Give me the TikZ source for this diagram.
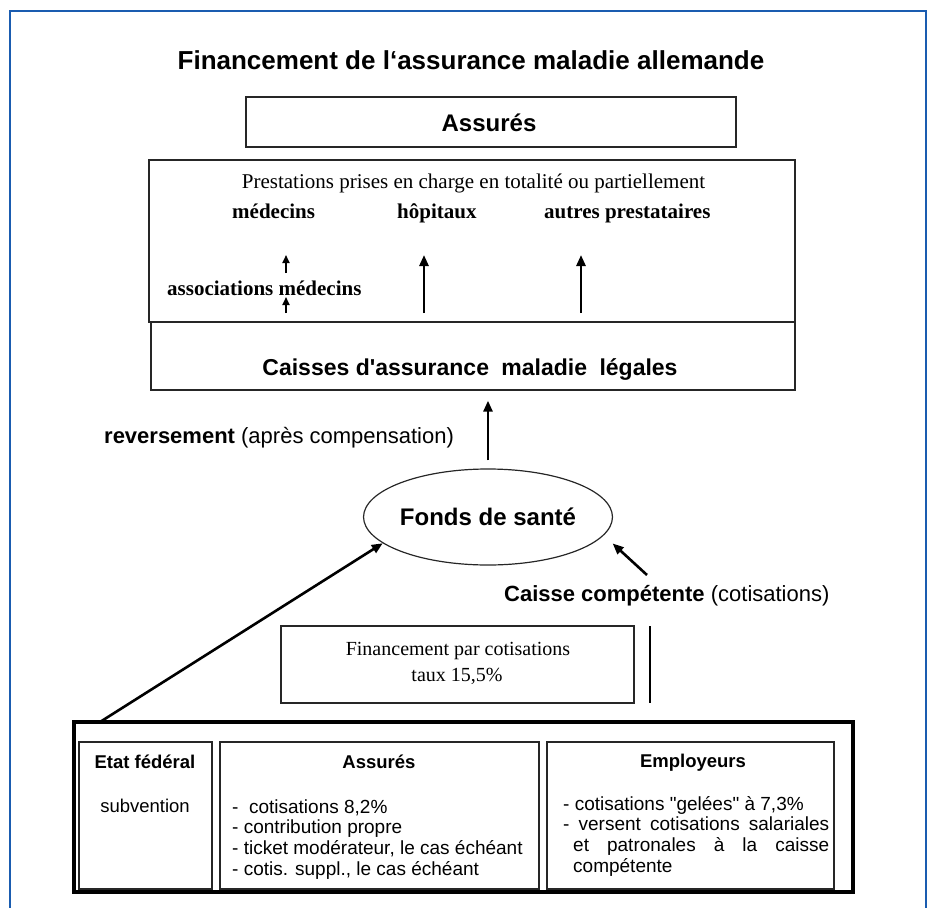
\documentclass[tikz,border=0pt]{standalone}
\usepackage{fontspec}
\setmainfont{Liberation Sans}
\newfontfamily\seriffont{Liberation Serif}
\usetikzlibrary{arrows.meta,shapes.geometric}
\definecolor{frameblue}{RGB}{26,92,176}
\newcommand\fsz[2]{\fontsize{#1}{#2}\selectfont}
\begin{document}
\begin{tikzpicture}[x=1pt,y=-1pt,
  box/.style={draw=black!85,line width=1.3pt,inner sep=0pt,rectangle},
  arr/.style={-{Triangle[length=11pt,width=9pt]},line width=2.6pt},
  sarr/.style={-{Triangle[length=8pt,width=7pt]},line width=1.8pt},
  txt/.style={inner sep=0pt},
  sanslbl/.style={txt,font=\fsz{22}{26}},
  sertxt/.style={txt,font=\seriffont\bfseries\fsz{21}{25}},
  btxt/.style={txt,font=\fsz{19}{22}}]
\useasboundingbox (0,0) rectangle (930,908);
% blue frame
\draw[frameblue,line width=2.6pt] (10,908) -- (10,11) -- (926,11) -- (926,908);

% title
\node[txt,anchor=base,font=\bfseries\fsz{26}{30}] (title) at (471,69) {Financement de l`assurance maladie allemande};

% Assures top box
\node[box,minimum width=490pt,minimum height=50pt] (assur) at (491,122) {};
\node[txt,anchor=base,font=\bfseries\fsz{24}{29}] (assurtxt) at (489,131) {Assurés};

% Prestations box
\node[box,minimum width=646pt,minimum height=162pt] (prest) at (472,241) {};
\node[txt,anchor=base,font=\seriffont\fsz{21}{25}] (prtxt) at (473.5,188) {Prestations prises en charge en totalité ou partiellement};
\node[sertxt,anchor=base west] (med) at (232,218) {médecins};
\node[sertxt,anchor=base west] (hop) at (397,218) {hôpitaux};
\node[sertxt,anchor=base west] (autres) at (544,218) {autres prestataires};
\node[sertxt,anchor=base west] (assoc) at (167,295) {associations médecins};

\coordinate (m1a) at (286,273); \coordinate (m1b) at (286,255);
\coordinate (m2a) at (286,313); \coordinate (m2b) at (286,297);
\coordinate (h1a) at (424,313); \coordinate (h1b) at (424,255);
\coordinate (a1a) at (581,313); \coordinate (a1b) at (581,255);
\draw[sarr] (m1a) -- (m1b);
\draw[sarr] (m2a) -- (m2b);
\draw[arr] (h1a) -- (h1b);
\draw[arr] (a1a) -- (a1b);

% Caisses box
\node[box,minimum width=644pt,minimum height=68pt] (caisses) at (473,356) {};
\node[txt,anchor=base,font=\bfseries\fsz{23}{27}] (caissestxt) at (470,375) {Caisses d\textquotesingle assurance\hspace{6pt} maladie\hspace{6pt} légales};

% reversement
\node[sanslbl,anchor=base west] (rev) at (104,443) {\textbf{reversement} (après compensation)};

% Fonds de sante
\node[ellipse,draw=black!85,line width=1.2pt,minimum width=234pt,minimum height=96pt,inner sep=0pt,font=\bfseries\fsz{24}{28}] (fonds) at (488,517) {Fonds de santé};
\draw[arr,shorten <=8pt,shorten >=10pt] (fonds.north) -- (fonds.north |- caisses.south);

% Caisse competente
\node[sanslbl,anchor=base west] (cc) at (504,601) {\textbf{Caisse compétente} (cotisations)};
\coordinate (tailR) at (647,575);
\draw[arr,shorten >=12pt] (tailR) -- (fonds.-9);

% Financement box
\node[box,minimum width=353pt,minimum height=77pt] (fin) at (457.5,664.5) {};
\node[txt,anchor=base,font=\seriffont\fsz{20}{24}] (fin1) at (458,655) {Financement par cotisations};
\node[txt,anchor=base,font=\seriffont\fsz{20}{24}] (fin2) at (457,681) {taux 15,5\%};
\coordinate (vbT) at (650,626); \coordinate (vbB) at (650,703);
\draw[line width=2.8pt] (vbT) -- (vbB);

% Bottom big box
\node[draw=black,line width=3.4pt,minimum width=779pt,minimum height=170pt,inner sep=0pt] (big) at (463.5,807) {};
\coordinate (etatA) at (100,722);
\draw[arr] (etatA) -- (fonds.194);

\node[box,line width=1.2pt,minimum width=133pt,minimum height=147pt] (etat) at (145.5,815.5) {};
\node[box,line width=1.2pt,minimum width=319pt,minimum height=147pt] (assurB) at (379.5,815.5) {};
\node[box,line width=1.2pt,minimum width=287pt,minimum height=147pt] (empl) at (690.5,815.5) {};

\node[txt,anchor=base,font=\bfseries\fsz{18.5}{22}] (etatT) at (145,768) {Etat fédéral};
\node[txt,anchor=base,font=\fsz{18.5}{22}] (subv) at (145,812) {subvention};

\node[txt,anchor=base,font=\bfseries\fsz{18.5}{22}] (assurT) at (379,768) {Assurés};
\node[btxt,anchor=base west] (al1) at (232,813) {-\ \ cotisations 8,2\%};
\node[btxt,anchor=base west] (al2) at (232,833) {- contribution propre};
\node[btxt,anchor=base west] (al3) at (232,854) {- ticket modérateur, le cas échéant};
\node[btxt,anchor=base west] (al4) at (232,875) {- cotis. suppl., le cas échéant};

\node[txt,anchor=base,font=\bfseries\fsz{18.5}{22}] (emplT) at (693,767) {Employeurs};
\node[btxt,anchor=base west] (el1) at (563,810) {- cotisations \textquotedbl gelées\textquotedbl\ à 7,3\%};
\node[btxt,anchor=base west] (el2) at (563,830) {\makebox[266pt][s]{- versent cotisations salariales}};
\node[btxt,anchor=base west] (el3) at (573,851) {\makebox[256pt][s]{et patronales à la caisse}};
\node[btxt,anchor=base west] (el4) at (573,872) {compétente};
\end{tikzpicture}
\end{document}
